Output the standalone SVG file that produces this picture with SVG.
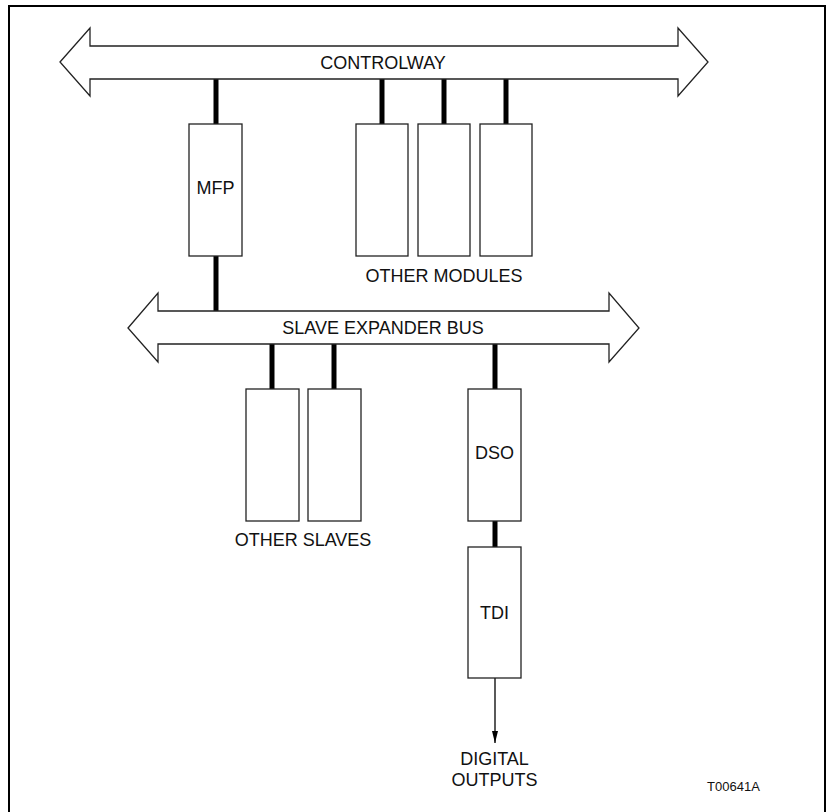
<svg xmlns="http://www.w3.org/2000/svg" width="830" height="812" viewBox="0 0 830 812">
<defs>
<style>
.frame{fill:none;stroke:#000;stroke-width:2}
.bus{fill:#fff;stroke:#222;stroke-width:1.3;stroke-linejoin:miter}
.box{fill:#fff;stroke:#222;stroke-width:1.3}
.thick{stroke:#000;stroke-width:5;fill:none}
.thin{stroke:#000;stroke-width:1.3;fill:none}
text{font-family:"Liberation Sans",Arial,sans-serif;font-size:18px;fill:#111;text-anchor:middle}
.small{font-size:13px}
</style>
<marker id="arr" viewBox="0 0 12 8" refX="12" refY="4" markerWidth="12" markerHeight="8" markerUnits="userSpaceOnUse" orient="auto">
<path d="M0,1 L12,4 L0,7 Z" fill="#000"/>
</marker>
</defs>
<rect class="frame" x="9" y="6" width="816" height="812"/>
<g id="connectors">
<line class="thick" x1="216" y1="79" x2="216" y2="124"/>
<line class="thick" x1="382" y1="79" x2="382" y2="124"/>
<line class="thick" x1="444" y1="79" x2="444" y2="124"/>
<line class="thick" x1="506" y1="79" x2="506" y2="124"/>
<line class="thick" x1="216" y1="256" x2="216" y2="312"/>
<line class="thick" x1="272" y1="344" x2="272" y2="389"/>
<line class="thick" x1="334" y1="344" x2="334" y2="389"/>
<line class="thick" x1="495" y1="344" x2="495" y2="389"/>
<line class="thick" x1="495" y1="521" x2="495" y2="547"/>
<path class="thin" d="M495,678 L495,743" marker-end="url(#arr)"/>
</g>
<g id="controlway">
<path class="bus" d="M60,62 L90,28 L90,46 L678,46 L678,28 L708,62 L678,96 L678,79 L90,79 L90,96 Z"/>
<text x="383" y="69">CONTROLWAY</text>
</g>
<g id="slave-expander-bus">
<path class="bus" d="M128,328 L158,293 L158,311 L609,311 L609,293 L639,328 L609,362 L609,344 L158,344 L158,362 Z"/>
<text x="383" y="334">SLAVE EXPANDER BUS</text>
</g>
<g id="mfp">
<rect class="box" x="189" y="124" width="53" height="132"/>
<text x="215.5" y="194">MFP</text>
</g>
<g id="other-modules">
<rect class="box" x="356" y="124" width="52" height="132"/>
<rect class="box" x="418" y="124" width="52" height="132"/>
<rect class="box" x="480" y="124" width="52" height="132"/>
<text x="444" y="282">OTHER MODULES</text>
</g>
<g id="other-slaves">
<rect class="box" x="246" y="389" width="53" height="132"/>
<rect class="box" x="308" y="389" width="53" height="132"/>
<text x="303" y="546">OTHER SLAVES</text>
</g>
<g id="dso">
<rect class="box" x="468" y="389" width="53" height="132"/>
<text x="494.5" y="459">DSO</text>
</g>
<g id="tdi">
<rect class="box" x="468" y="547" width="53" height="131"/>
<text x="494.5" y="619">TDI</text>
</g>
<g id="digital-outputs">
<text x="494.5" y="765">DIGITAL</text>
<text x="494.5" y="786">OUTPUTS</text>
</g>
<text class="small" x="733.5" y="791">T00641A</text>
</svg>
